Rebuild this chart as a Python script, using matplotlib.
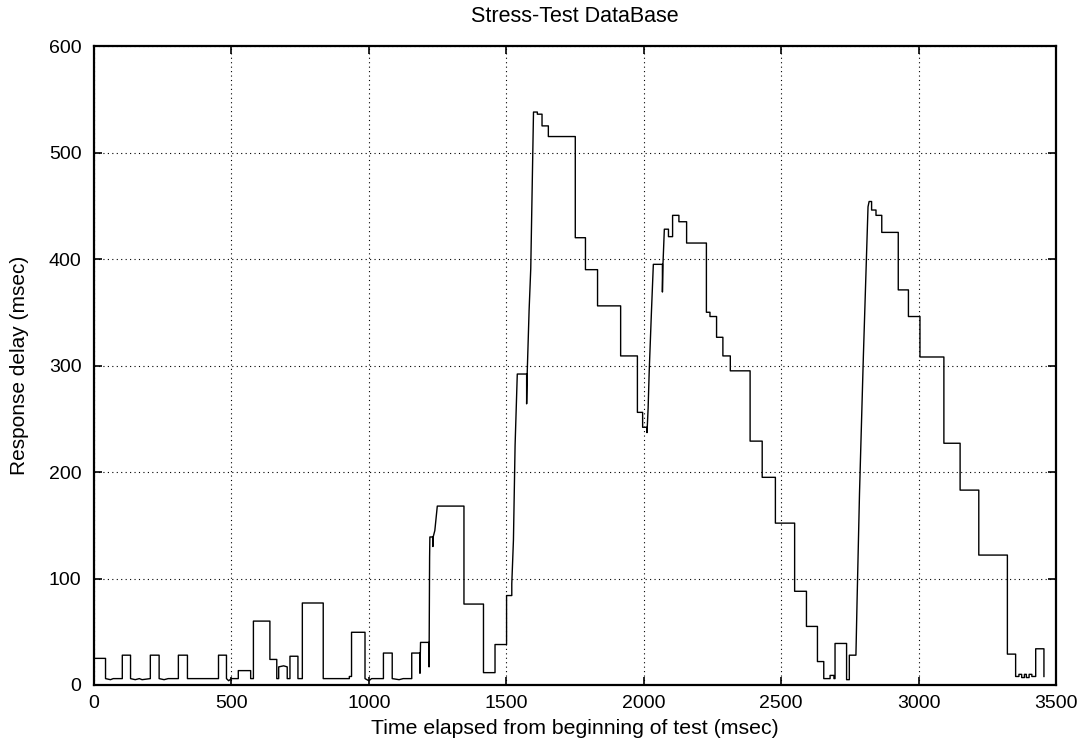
import matplotlib
matplotlib.use('Agg')
from matplotlib import pyplot as plt

# time (msec) and response delay (msec)
t = [0, 42, 42, 60, 70, 103, 103, 133, 133, 150, 165, 175, 205, 205, 237, 237, 255, 270,
     307, 307, 340, 340, 453, 453, 482, 482, 490, 500, 525, 525, 570, 570, 580, 580, 640,
     640, 665, 665, 672, 672, 690, 703, 703, 713, 713, 742, 742, 758, 758, 834, 834, 929,
     929, 937, 937, 986, 986, 1000, 1010, 1053, 1053, 1085, 1085, 1110, 1125, 1156, 1156,
     1186, 1186, 1188, 1219, 1219, 1221, 1222, 1232, 1233, 1234, 1240, 1247, 1249, 1346,
     1346, 1417, 1417, 1459, 1459, 1501, 1501, 1520, 1520, 1526, 1532, 1540, 1574, 1574,
     1576, 1583, 1589, 1599, 1613, 1613, 1630, 1630, 1653, 1653, 1751, 1751, 1788, 1788,
     1832, 1832, 1916, 1916, 1977, 1977, 1996, 1996, 2011, 2012, 2016, 2020, 2028, 2035,
     2068, 2068, 2070, 2075, 2090, 2090, 2105, 2105, 2128, 2128, 2156, 2156, 2228, 2228,
     2241, 2241, 2265, 2265, 2288, 2288, 2315, 2315, 2387, 2387, 2431, 2431, 2479, 2479,
     2549, 2549, 2592, 2592, 2632, 2632, 2655, 2655, 2678, 2678, 2692, 2692, 2696, 2696,
     2738, 2738, 2748, 2748, 2772, 2776, 2785, 2799, 2810, 2816, 2820, 2829, 2829, 2845,
     2845, 2866, 2866, 2926, 2926, 2963, 2963, 3005, 3005, 3092, 3092, 3151, 3151, 3219,
     3219, 3323, 3323, 3353, 3353, 3365, 3365, 3375, 3375, 3385, 3385, 3392, 3392, 3402,
     3402, 3412, 3412, 3426, 3426, 3456, 3456]
delay = [25, 25, 6, 5, 6, 6, 28, 28, 6, 5, 6, 5, 6, 28, 28, 6, 5, 6,
         6, 28, 28, 6, 6, 28, 28, 6, 4, 6, 6, 13.5, 13.5, 6, 6, 60, 60,
         24, 24, 6, 6, 17, 18, 17, 6, 6, 27, 27, 6, 6, 77, 77, 6, 6,
         8, 8, 49.5, 49.5, 6, 4, 6, 6, 30, 30, 6, 5, 6, 6, 30,
         30, 11, 40, 40, 17, 120, 139, 139, 130, 139, 145, 163, 168, 168,
         76, 76, 11.6, 11.6, 38, 38, 84, 84, 95, 136, 225, 292, 292, 264,
         292, 352, 391, 538, 538, 536, 536, 525, 525, 515, 515, 420, 420, 390,
         390, 356, 356, 309, 309, 256, 256, 242, 242, 237, 260, 295, 350, 395,
         395, 369, 395, 428, 428, 421, 421, 441, 441, 435, 435, 415, 415, 350,
         350, 346, 346, 326.5, 326.5, 309, 309, 295, 295, 229, 229, 195, 195, 152,
         152, 88, 88, 55, 55, 22, 22, 6, 6, 9, 9, 6, 6, 39,
         39, 5, 5, 28, 28, 77, 180, 308, 400, 449, 454, 454, 446, 446,
         441, 441, 425, 425, 371, 371, 346, 346, 308, 308, 227, 227, 183, 183,
         122, 122, 29, 29, 8, 8, 10, 10, 7, 7, 10, 10, 7, 7,
         10, 10, 8, 8, 34, 34, 8]

xticks = [0, 500, 1000, 1500, 2000, 2500, 3000, 3500]
yticks = [0, 100, 200, 300, 400, 500, 600]

plt.rcParams['font.family'] = ['Liberation Sans', 'DejaVu Sans']
plt.rcParams['font.size'] = 14

fig = plt.figure(figsize=(10.84, 7.52), dpi=100)
ax = fig.add_axes([0.0867, 0.0891, 0.9742 - 0.0867, 0.9388 - 0.0891])

ax.plot(t, delay, color='black', lw=1.0)

ax.set_xlim(0, 3500)
ax.set_ylim(0, 600)
ax.set_xticks(xticks)
ax.set_yticks(yticks)
ax.grid(True, color='black', linestyle=(0, (1, 3)), lw=0.8)
ax.tick_params(direction='in', length=6, width=1.2, top=True, right=True, labelsize=14)
ax.tick_params(axis='x', pad=7)
ax.tick_params(axis='y', pad=9)
for s in ax.spines.values():
    s.set_linewidth(1.6)

ax.set_title('Stress-Test DataBase', pad=17, fontsize=15.5)
ax.set_xlabel('Time elapsed from beginning of test (msec)', labelpad=5, fontsize=15.3)
ax.set_ylabel('Response delay (msec)', labelpad=14, fontsize=15)

fig.savefig('out.png', dpi=100)
